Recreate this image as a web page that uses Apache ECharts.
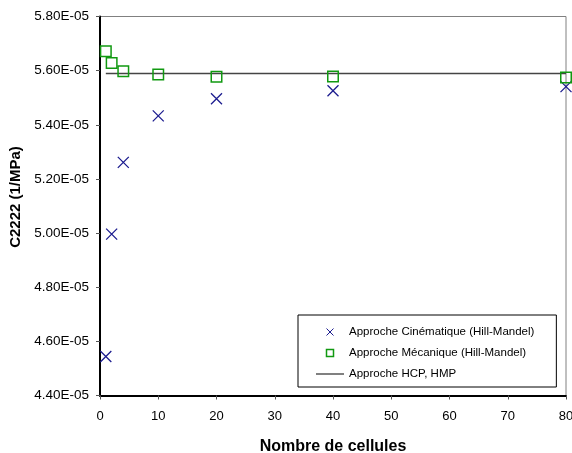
<!DOCTYPE html>
<html>
<head>
<meta charset="utf-8">
<script src="https://cdn.jsdelivr.net/npm/echarts@6/dist/echarts.min.js"></script>
<style>
html,body{margin:0;padding:0;background:#fff;}
#chart{width:572px;height:453px;}
</style>
</head>
<body>
<div id="chart"></div>
<script>
// Data
const cellCounts = [1, 2, 4, 10, 20, 40, 80];
const cinematique = [4.544e-5, 4.996e-5, 5.261e-5, 5.433e-5, 5.496e-5, 5.526e-5, 5.541e-5];
const mecanique   = [5.672e-5, 5.628e-5, 5.598e-5, 5.586e-5, 5.577e-5, 5.578e-5, 5.575e-5];
const hcpX = [1, 80];
const hcpY = [5.589e-5, 5.589e-5];
const xTickLabels = ['0', '10', '20', '30', '40', '50', '60', '70', '80'];
const yTickLabels = ['4.40E-05', '4.60E-05', '4.80E-05', '5.00E-05', '5.20E-05', '5.40E-05', '5.60E-05', '5.80E-05'];
const seriesNames = ['Approche Cinématique (Hill-Mandel)', 'Approche Mécanique (Hill-Mandel)', 'Approche HCP, HMP'];
const xTitle = 'Nombre de cellules';
const yTitle = 'C2222 (1/MPa)';

const FONT = '"Liberation Sans", Arial, sans-serif';
const blue = '#1c1c8f';
const green = '#119911';

const zip = (xs, ys) => xs.map((x, i) => [x, ys[i]]);

const chart = echarts.init(document.getElementById('chart'), null, {renderer: 'canvas'});
chart.setOption({
  animation: false,
  backgroundColor: '#fff',
  grid: {left: 100, right: 6, top: 16.5, bottom: 57.5, show: true, borderColor: '#808080', borderWidth: 1,
    backgroundColor: 'transparent', containLabel: false, outerBoundsMode: 'none'},
  xAxis: {
    type: 'value', min: 0, max: 80, interval: 10,
    name: xTitle, nameLocation: 'middle', nameGap: 43,
    nameTextStyle: {fontFamily: FONT, fontSize: 16, fontWeight: 'bold', color: '#000'},
    axisLine: {show: true, lineStyle: {color: '#000', width: 2}},
    axisTick: {show: true, length: 4, lineStyle: {color: '#555'}},
    axisLabel: {fontFamily: FONT, fontSize: 13, color: '#000', margin: 14,
      formatter: (v, i) => xTickLabels[i]},
    splitLine: {show: false}
  },
  yAxis: {
    type: 'value', min: 4.4e-5, max: 5.8e-5, interval: 0.2e-5,
    name: yTitle, nameLocation: 'middle', nameGap: 75, nameRotate: 90,
    nameTextStyle: {fontFamily: FONT, fontSize: 15, fontWeight: 'bold', color: '#000', padding: [0, 0, 0, 18]},
    axisLine: {show: true, lineStyle: {color: '#000', width: 2}},
    axisTick: {show: true, length: 4, lineStyle: {color: '#555'}},
    axisLabel: {fontFamily: FONT, fontSize: 13.5, color: '#000', margin: 11,
      formatter: (v, i) => yTickLabels[i]},
    splitLine: {show: false}
  },
  legend: {
    orient: 'vertical', left: 298, top: 315,
    padding: [11, 22, 7, 18], itemGap: 9,
    itemWidth: 28, itemHeight: 7,
    backgroundColor: '#fff', borderColor: '#000', borderWidth: 1,
    textStyle: {fontFamily: FONT, fontSize: 11.5, color: '#000'},
    data: [
      {name: seriesNames[0], icon: 'path://M0,0L10,10M10,0L0,10',
        itemStyle: {color: 'transparent', borderColor: blue, borderWidth: 1}},
      {name: seriesNames[1], icon: 'path://M0,0L10,0L10,10L0,10Z',
        itemStyle: {color: '#fff', borderColor: green, borderWidth: 1.5}},
      {name: seriesNames[2], icon: 'path://M0,0L28,0L28,1L0,1Z',
        itemStyle: {color: '#000', borderWidth: 0}}
    ]
  },
  series: [
    {
      name: seriesNames[0], type: 'scatter',
      data: zip(cellCounts, cinematique),
      symbol: 'path://M0,0L10,10M10,0L0,10', symbolSize: 11,
      itemStyle: {color: 'transparent', borderColor: blue, borderWidth: 1.3, opacity: 1},
      z: 3
    },
    {
      name: seriesNames[1], type: 'scatter',
      data: zip(cellCounts, mecanique),
      symbol: 'rect', symbolSize: 10.5,
      itemStyle: {color: 'rgba(255,255,255,0)', borderColor: green, borderWidth: 1.5, opacity: 1},
      z: 4
    },
    {
      name: seriesNames[2], type: 'line',
      data: zip(hcpX, hcpY),
      symbol: 'none', showSymbol: false,
      lineStyle: {color: '#444', width: 1.5},
      z: 2
    }
  ]
});
</script>
</body>
</html>
